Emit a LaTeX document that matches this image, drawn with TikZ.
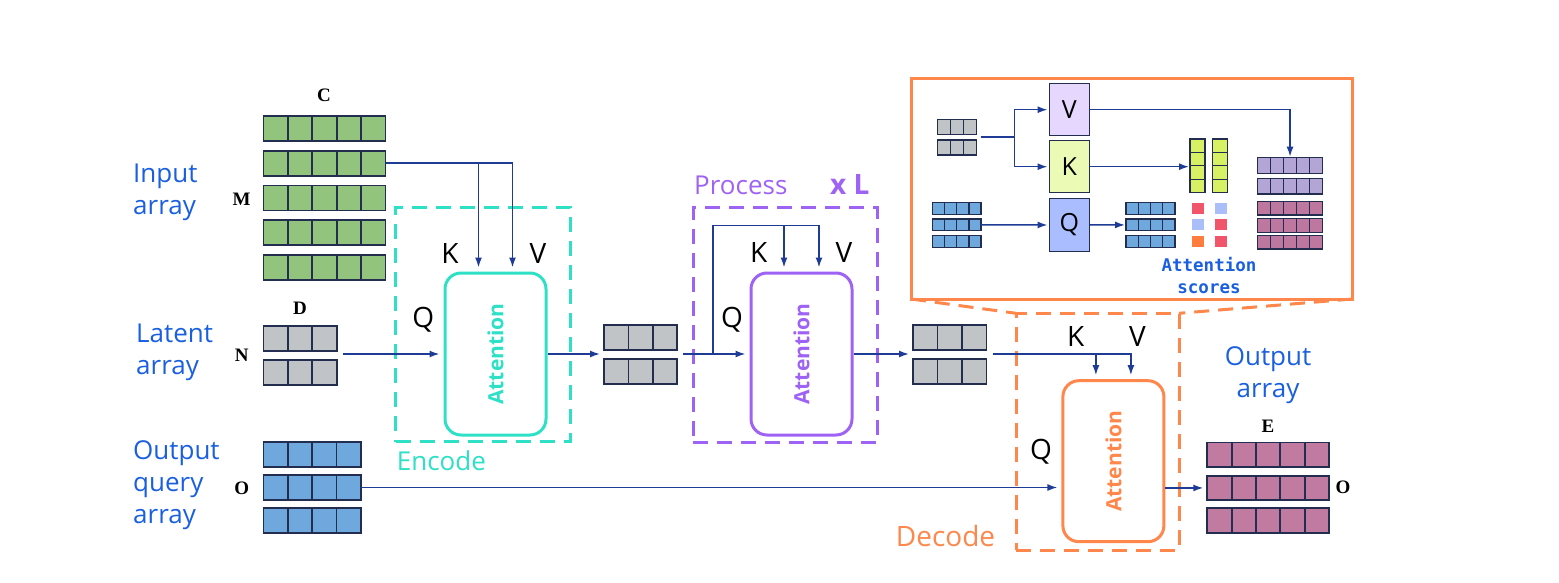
\documentclass[tikz,border=0pt]{standalone}
\usepackage{fontspec}
\setmainfont{Open Sans}
\newfontfamily\letterfont{Liberation Serif}
\newfontfamily\scorefont{DejaVu Sans Mono}
\usetikzlibrary{arrows.meta,calc}

\definecolor{txtblue}{RGB}{26,95,224}
\definecolor{arrowblue}{RGB}{30,60,150}
\definecolor{cellline}{RGB}{35,45,80}
\definecolor{ingreen}{RGB}{147,196,125}
\definecolor{latgray}{RGB}{192,196,199}
\definecolor{qblue}{RGB}{111,168,220}
\definecolor{outmauve}{RGB}{194,123,160}
\definecolor{enccol}{RGB}{45,224,198}
\definecolor{proccol}{RGB}{158,98,245}
\definecolor{deccol}{RGB}{255,135,75}
\definecolor{vfill}{RGB}{230,215,255}
\definecolor{kfill}{RGB}{235,250,180}
\definecolor{qfill}{RGB}{170,190,255}
\definecolor{kgreen}{RGB}{215,240,100}
\definecolor{scorered}{RGB}{240,85,105}
\definecolor{scoreblue}{RGB}{170,190,250}
\definecolor{scoreorange}{RGB}{255,125,60}
\definecolor{vpurple}{RGB}{180,165,215}
\definecolor{vmauve}{RGB}{190,120,160}

\tikzset{
  conn/.style={draw=arrowblue, line width=1.5pt, -{Latex[length=10pt,width=7pt]}, shorten >=4pt},
  miniconn/.style={conn, shorten >=1pt},
  cell/.style={draw=cellline, line width=1.8pt},
  minicell/.style={draw=cellline, line width=1.3pt},
  attbox/.style={draw, rounded corners=16pt, line width=3pt, minimum width=101, minimum height=162, inner sep=0pt},
  atttext/.style={font=\fontsize{21}{21}\selectfont\bfseries, rotate=90, inner sep=0pt},
  groupbox/.style={line width=3pt, dash pattern=on 15pt off 9pt, inner sep=0pt, outer sep=0pt, anchor=north west},
  arrlabel/.style={text=txtblue, font=\fontsize{26}{32}\selectfont, inner sep=0pt},
  grouplab/.style={font=\fontsize{26}{26}\selectfont, inner sep=0pt, anchor=base west},
  kvq/.style={font=\fontsize{28}{28}\selectfont, inner sep=0pt, anchor=base},
  dimlab/.style={font={\letterfont\bfseries\fontsize{19}{19}\selectfont}, inner sep=0pt},
  qkv/.style={draw=cellline, line width=1.5pt, minimum width=40, minimum height=52, inner sep=0pt, font=\fontsize{25}{25}\selectfont}
}

% one row of cells: [style]{name}{left}{top}{cells}{cell width}{height}{fill}
\newcommand{\cellrow}[8][cell]{%
  \foreach \k in {1,...,#5}
    \draw[#1, fill=#8] ({#3+(\k-1)*#6},#4) rectangle ++(#6,#7);
  \node[inner sep=0pt, outer sep=0pt, minimum width={#5*#6}, minimum height=#7, anchor=north west] (#2) at (#3,#4) {};
}
% one column of cells: [style]{name}{left}{top}{cells}{width}{cell height}{fill}
\newcommand{\cellcol}[8][cell]{%
  \foreach \k in {1,...,#5}
    \draw[#1, fill=#8] (#3,{#4+(\k-1)*#7}) rectangle ++(#6,#7);
  \node[inner sep=0pt, outer sep=0pt, minimum width=#6, minimum height={#5*#7}, anchor=north west] (#2) at (#3,#4) {};
}

\begin{document}
\begin{tikzpicture}[x=1pt, y=-1pt]
  \useasboundingbox (0,0) rectangle (1559,583);

  %arrays on the left
  \foreach \r/\yy in {1/116,2/150.75,3/185.5,4/220.25,5/255}
    \cellrow{in\r}{263.5}{\yy}{5}{24.4}{25}{ingreen};
  \foreach \r/\yy in {1/325.7,2/359.8}
    \cellrow{lat\r}{263.5}{\yy}{3}{24.4}{25.5}{latgray};
  \foreach \r/\yy in {1/441.7,2/475,3/508}
    \cellrow{oq\r}{263.5}{\yy}{4}{24.3}{25}{qblue};

  \node[arrlabel, anchor=north west, align=left] (inlab) at (133,163.3) {Input\\array};
  \node[arrlabel, anchor=north west, align=left] (latlab) at (136,323.3) {Latent\\array};
  \node[arrlabel, anchor=north west, align=left] (oqlab) at (133,440) {Output\\query\\array};

  \node[dimlab] (dimC) at (324,95) {C};
  \node[dimlab] (dimM) at (241.7,199) {M};
  \node[dimlab] (dimD) at (300,308) {D};
  \node[dimlab] (dimN) at (241.7,355) {N};
  \node[dimlab] (dimO) at (241.7,488) {O};

  %Encode
  \node[groupbox, draw=enccol, minimum width=174.3, minimum height=234.4] (encgroup) at (395.7,207.3) {};
  \node[attbox, draw=enccol] (encatt) at (495.5,354) {};
  \node[atttext, text=enccol] at (encatt) {Attention};
  \node[grouplab, text=enccol] at (396.7,470) {Encode};
  \node[kvq] at (450,263.3) {K};
  \node[kvq] at (538,263.3) {V};
  \node[kvq] at (423.3,327) {Q};
  \coordinate (encK) at ($(encatt.north)+(-17,0)$);
  \coordinate (encV) at ($(encatt.north)+(17,0)$);
  \draw[conn] (in2.east) -| (encV);
  \draw[conn] (in2.east -| encK) -- (encK);
  \coordinate (latmid) at ($(lat1.south east)!.5!(lat2.north east)+(6,0)$);
  \draw[conn] (encatt.west -| latmid) -- (encatt.west);

  \foreach \r/\yy in {1/325,2/359.3}
    \cellrow{ga\r}{604}{\yy}{3}{24.4}{25}{latgray};
  \draw[conn] (encatt.east) -- (encatt.east -| ga1.west);

  %Process
  \node[groupbox, draw=proccol, minimum width=184, minimum height=235] (procgroup) at (693,207.7) {};
  \node[attbox, draw=proccol] (procatt) at (801.5,354) {};
  \node[atttext, text=proccol] at (procatt) {Attention};
  \node[grouplab, text=proccol] at (694,194) {Process};
  \node[grouplab, text=proccol, font=\fontsize{28}{28}\selectfont\bfseries] at (830,194) {x L};
  \node[kvq] at (758.7,262.7) {K};
  \node[kvq] at (844,262.7) {V};
  \node[kvq] at (732,327) {Q};
  \coordinate (procK) at ($(procatt.north)+(-17.5,0)$);
  \coordinate (procV) at ($(procatt.north)+(17.5,0)$);
  \coordinate (proctop) at ($(procV)+(0,-46)$);
  \coordinate (procsplit) at ($(procatt.west -| ga1.east)+(36,0)$);
  \draw[conn] ($(procatt.west -| ga1.east)+(6,0)$) -- (procatt.west);
  \draw[conn] (procsplit) |- (proctop) -- (procV);
  \draw[conn] (proctop -| procK) -- (procK);

  \foreach \r/\yy in {1/325,2/359.3}
    \cellrow{gb\r}{913}{\yy}{3}{24.5}{25}{latgray};
  \draw[conn] (procatt.east) -- (procatt.east -| gb1.west);

  %Decode
  \node[groupbox, draw=deccol, minimum width=163, minimum height=236.7] (decgroup) at (1016,313.3) {};
  \node[attbox, draw=deccol, minimum height=161] (decatt) at (1113.4,461.2) {};
  \node[atttext, text=deccol] at (decatt) {Attention};
  \node[grouplab, text=deccol, font=\fontsize{28}{28}\selectfont] at (895.7,546) {Decode};
  \node[kvq] at (1075.7,346.7) {K};
  \node[kvq] at (1137.5,346.7) {V};
  \node[kvq] at (1041,459.5) {Q};
  \coordinate (decK) at ($(decatt.north)+(-17.5,0)$);
  \coordinate (decV) at ($(decatt.north)+(17.5,0)$);
  \coordinate (decstart) at ($(gb1.east |- procatt.east)+(6,0)$);
  \draw[conn] (decstart) -| (decV);
  \draw[conn] (decstart -| decK) -- (decK);
  \draw[conn] (oq2.east) -- (oq2.east -| decatt.west);

  %output array
  \foreach \r/\yy in {1/442.5,2/475.7,3/508.3}
    \cellrow{out\r}{1207.3}{\yy}{5}{24.35}{24.5}{outmauve};
  \draw[conn] (decatt.east |- out2.west) -- (out2.west);
  \node[arrlabel, anchor=north, align=center] (outlab) at (1268,346.7) {Output\\array};
  \node[dimlab] (dimE) at (1268,426) {E};
  \node[dimlab] (dimO2) at (1343,487) {O};

  %zoom of the attention
  \node[draw=deccol, line width=3pt, inner sep=0pt, outer sep=0pt, minimum width=441.7, minimum height=220.7, anchor=north west] (zoombox) at (911,78.3) {};
  \draw[groupbox, draw=deccol] (zoombox.south west) -- (decgroup.north west);
  \draw[groupbox, draw=deccol] (zoombox.south east) -- (decgroup.north east);

  \foreach \r/\yy in {1/119.3,2/140}
    \cellrow[minicell]{ig\r}{937.3}{\yy}{3}{13.1}{15}{latgray};
  \node[qkv, fill=vfill] (iV) at (1069.3,109.7) {V};
  \node[qkv, fill=kfill] (iK) at (1069.3,166.7) {K};
  \node[qkv, fill=qfill, minimum height=53.4] (iQ) at (1069.3,225) {Q};
  \coordinate (isplit) at ($(ig1.south east)!.5!(ig2.north east)+(4,0)$);
  \draw[miniconn] (isplit) -- ++(34,0) |- (iV.west);
  \draw[miniconn] (isplit) -- ++(34,0) |- (iK.west);

  \foreach \r/\yy in {1/202.7,2/219,3/235.7}{
    \cellrow[minicell]{ib\r}{932.3}{\yy}{4}{12.2}{11.8}{qblue};
    \cellrow[minicell]{ir\r}{1126}{\yy}{4}{12.25}{11.8}{qblue};
  }
  \draw[miniconn] (ib2.east) -- (iQ.west);
  \draw[miniconn] (iQ.east) -- (ir2.west);

  \cellcol[minicell]{gc1}{1190}{139}{4}{15}{13.4}{kgreen};
  \cellcol[minicell]{gc2}{1212.3}{139}{4}{15}{13.4}{kgreen};
  \draw[miniconn] (iK.east) -- (iK.east -| gc1.west);

  \foreach \xx/\yy/\col in {1192.3/202.7/scorered, 1215/202.7/scoreblue,
                            1192.3/219/scoreblue, 1215/219/scorered,
                            1192.3/236/scoreorange, 1215/236/scorered}
    \fill[\col] (\xx,\yy) rectangle ++(11.7,11.3);
  \node[font={\scorefont\bfseries\fontsize{17.5}{21.7}\selectfont}, text=txtblue, align=center, inner sep=0pt] (scorelab) at (1209,275.2) {Attention\\scores};

  \foreach \r/\yy/\hh/\col in {1/157.7/15.6/vpurple, 2/178.3/15.6/vpurple,
                               3/201.7/13.4/vmauve, 4/218.3/14/vmauve, 5/235.7/13.4/vmauve}
    \cellrow[minicell]{ip\r}{1257.3}{\yy}{5}{13.1}{\hh}{\col};
  \draw[miniconn] (iV.east) -| (ip1.north);
\end{tikzpicture}
\end{document}
